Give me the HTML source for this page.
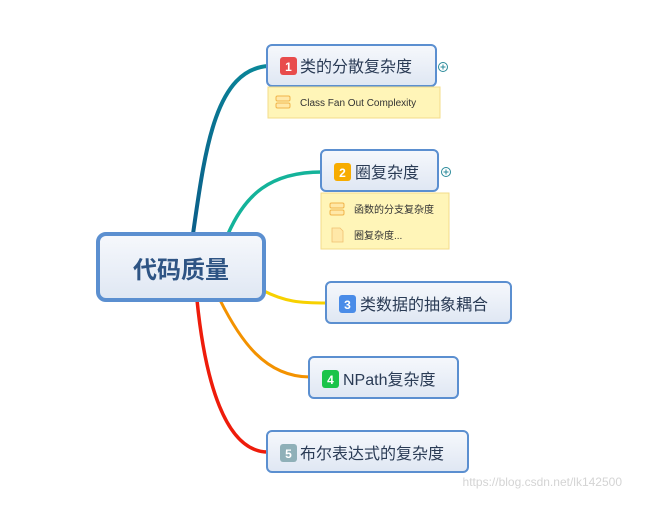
<!DOCTYPE html>
<html><head><meta charset="utf-8"><style>
body{margin:0;background:#fff;width:660px;height:500px;overflow:hidden}
svg text{font-family:"Liberation Sans","Noto Sans CJK SC",sans-serif}
</style></head><body>
<svg width="660" height="500" viewBox="0 0 660 500">
<defs>
<linearGradient id="g" x1="0" y1="0" x2="0" y2="1"><stop offset="0" stop-color="#f6f8fc"/><stop offset="1" stop-color="#dfe7f3"/></linearGradient>
<linearGradient id="c1" x1="0" y1="1" x2="1" y2="0"><stop offset="0" stop-color="#0b5f8a"/><stop offset="1" stop-color="#0a8a9a"/></linearGradient>
</defs>
<path d="M193 234 C205 150,215 70,268 66" fill="none" stroke="url(#c1)" stroke-width="4"/>
<path d="M228 234 C245 195,270 172,322 172" fill="none" stroke="#14b39a" stroke-width="3.5"/>
<path d="M262 290 C285 302,300 303,327 303" fill="none" stroke="#f7d100" stroke-width="3"/>
<path d="M220 300 C240 340,265 377,310 377" fill="none" stroke="#f39200" stroke-width="3"/>
<path d="M197 300 C205 380,225 452,268 452" fill="none" stroke="#ee1c0b" stroke-width="3.5"/>

<rect x="98" y="234" width="166" height="66" rx="8" fill="url(#g)" stroke="#5b8fd0" stroke-width="4"/>
<text x="181" y="278" text-anchor="middle" font-size="24" font-weight="bold" fill="#2e5484">代码质量</text>

<rect x="267" y="45" width="169" height="41" rx="5" fill="url(#g)" stroke="#5b8fd0" stroke-width="2"/>
<rect x="280" y="57" width="17" height="18" rx="3" fill="#e84c4c"/>
<text x="288.5" y="71" text-anchor="middle" font-size="12" font-weight="bold" fill="#fff">1</text>
<text x="300" y="72" font-size="16" fill="#2a3b55">类的分散复杂度</text>
<circle cx="443" cy="67" r="4.5" fill="none" stroke="#2a8a9a"/><path d="M440.5 67h5M443 64.5v5" stroke="#2a8a9a"/>
<rect x="268" y="87" width="172" height="31" fill="#fff5b8" stroke="#f3dc8a"/>
<rect x="276" y="96" width="14" height="5" rx="1.5" fill="#ffe8a8" stroke="#f0b44a"/><rect x="276" y="103" width="14" height="5" rx="1.5" fill="#ffe8a8" stroke="#f0b44a"/>
<text x="300" y="106" font-size="10" fill="#333">Class Fan Out Complexity</text>

<rect x="321" y="150" width="117" height="41" rx="5" fill="url(#g)" stroke="#5b8fd0" stroke-width="2"/>
<rect x="334" y="163" width="17" height="18" rx="3" fill="#f7ac00"/>
<text x="342.5" y="177" text-anchor="middle" font-size="12" font-weight="bold" fill="#fff">2</text>
<text x="355" y="178" font-size="16" fill="#2a3b55">圈复杂度</text>
<circle cx="446" cy="172" r="4.5" fill="none" stroke="#2a8a9a"/><path d="M443.5 172h5M446 169.5v5" stroke="#2a8a9a"/>
<rect x="321" y="193" width="128" height="56" fill="#fff5b8" stroke="#f3dc8a"/>
<rect x="330" y="203" width="14" height="5" rx="1.5" fill="#ffe8a8" stroke="#f0b44a"/><rect x="330" y="210" width="14" height="5" rx="1.5" fill="#ffe8a8" stroke="#f0b44a"/>
<text x="354" y="213" font-size="10" fill="#333">函数的分支复杂度</text>
<path d="M332 228h8l3 3v11h-11z" fill="#ffe8a8" stroke="#f0c070" stroke-width="0.8"/>
<text x="354" y="239" font-size="10" fill="#333">圈复杂度...</text>

<rect x="326" y="282" width="185" height="41" rx="5" fill="url(#g)" stroke="#5b8fd0" stroke-width="2"/>
<rect x="339" y="295" width="17" height="18" rx="3" fill="#4a8ce8"/>
<text x="347.5" y="309" text-anchor="middle" font-size="12" font-weight="bold" fill="#fff">3</text>
<text x="360" y="310" font-size="16" fill="#2a3b55">类数据的抽象耦合</text>

<rect x="309" y="357" width="149" height="41" rx="5" fill="url(#g)" stroke="#5b8fd0" stroke-width="2"/>
<rect x="322" y="370" width="17" height="18" rx="3" fill="#1bc44a"/>
<text x="330.5" y="384" text-anchor="middle" font-size="12" font-weight="bold" fill="#fff">4</text>
<text x="343" y="385" font-size="16" fill="#2a3b55">NPath复杂度</text>

<rect x="267" y="431" width="201" height="41" rx="5" fill="url(#g)" stroke="#5b8fd0" stroke-width="2"/>
<rect x="280" y="444" width="17" height="18" rx="3" fill="#8fb0b8"/>
<text x="288.5" y="458" text-anchor="middle" font-size="12" font-weight="bold" fill="#fff">5</text>
<text x="300" y="459" font-size="16" fill="#2a3b55">布尔表达式的复杂度</text>

<text x="622" y="486" text-anchor="end" font-size="12" fill="#d4d4d4">https://blog.csdn.net/lk142500</text>
</svg>
</body></html>
